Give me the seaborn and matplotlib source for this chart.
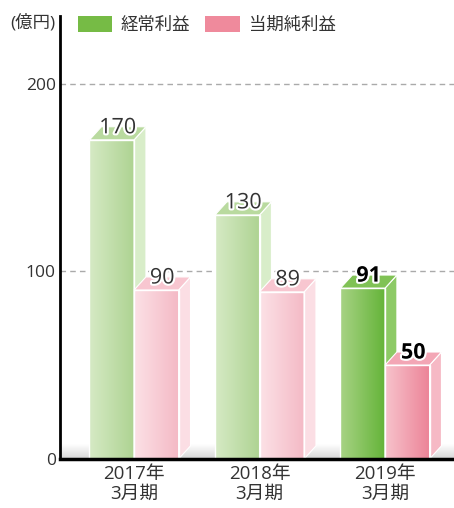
import numpy as np
import pandas as pd
import seaborn as sns
import matplotlib
matplotlib.use('Agg')
import matplotlib.pyplot as plt
from matplotlib.patches import Polygon, Patch
from matplotlib.colors import LinearSegmentedColormap
from matplotlib import patheffects

# data
periods = ['2017年\n3月期', '2018年\n3月期', '2019年\n3月期']
series = ['経常利益', '当期純利益']
keijo = [170, 130, 91]
junri = [90, 89, 50]
yticks = [0, 100, 200]

sns.set_theme(style='white')
plt.rcParams['font.family'] = ['Open Sans', 'Noto Sans CJK JP', 'DejaVu Sans']

df = pd.DataFrame({'period': periods * 2,
                   'series': [series[0]] * 3 + [series[1]] * 3,
                   'value': keijo + junri})

fig = plt.figure(figsize=(4.54, 5.08), dpi=100)
ax = fig.add_axes([60 / 454, 49 / 508, 394 / 454, 443 / 508])

sns.barplot(data=df, x='period', y='value', hue='series', hue_order=series,
            width=0.71, legend=False, ax=ax, saturation=1,
            palette=['#76bb45', '#ef8a9c'], edgecolor='white', linewidth=1)

ax.set_xlim(-0.59, 2.55)
ax.set_ylim(0, 236)

# styles: (front left, front right, side, top) per series, light for past, strong for latest
light = {0: ('#d6eac5', '#aed392', '#d8edc9', '#b9da9f'),
         1: ('#fce1e6', '#f4b9c5', '#fbdee4', '#f8c6d0')}
strong = {0: ('#a8d385', '#65b439', '#8dca66', '#80c255'),
          1: ('#f7c3cc', '#ec8397', '#f6b9c5', '#f3a6b5')}

dx, dy = 0.095, 7.0

# floor shading
floor = LinearSegmentedColormap.from_list('floor', ['#d6d6d6', '#ffffff'])
ax.imshow(np.linspace(0, 1, 64).reshape(-1, 1), cmap=floor, aspect='auto',
          extent=[-0.59, 2.55, 0, 7.5], origin='lower', zorder=0.6)

for si, cont in enumerate(ax.containers):
    for pi, bar in enumerate(cont):
        x0 = bar.get_x()
        w = bar.get_width()
        x1 = x0 + w
        h = bar.get_height()
        latest = pi == len(periods) - 1
        cols = strong[si] if latest else light[si]
        z = 2 + pi * 2 + si
        bar.set_zorder(z + 0.3)
        bar.set_facecolor('none')
        cmap = LinearSegmentedColormap.from_list('g', [cols[0], cols[1]])
        im = ax.imshow(np.linspace(0, 1, 128).reshape(1, -1), cmap=cmap, aspect='auto',
                       extent=[x0, x1, 0, h], zorder=z, interpolation='bilinear')
        im.set_clip_path(bar)
        side = Polygon([(x1, 0), (x1 + dx, dy), (x1 + dx, h + dy), (x1, h)], closed=True,
                       facecolor=cols[2], edgecolor='white', linewidth=0.8, zorder=z + 0.1)
        top = Polygon([(x0, h), (x0 + dx, h + dy), (x1 + dx, h + dy), (x1, h)], closed=True,
                      facecolor=cols[3], edgecolor='white', linewidth=0.8, zorder=z + 0.2)
        ax.add_patch(side)
        ax.add_patch(top)
        t = ax.text(x0 + w / 2 + dx / 2, h + 3.5, str(int(h)), ha='center', va='baseline',
                    fontsize=15.5, color='black' if latest else '#333333',
                    fontweight='bold' if latest else 'normal', zorder=20)
        t.set_path_effects([patheffects.withStroke(linewidth=3, foreground='white')])

ax.set_yticks(yticks)
ax.set_yticklabels([str(v) for v in yticks], fontsize=12.5, color='#333333')
ax.tick_params(axis='y', length=0, pad=3)
ax.tick_params(axis='x', length=0, pad=4, labelsize=13.5, labelcolor='#333333')
for lbl in ax.get_xticklabels():
    lbl.set_linespacing(1.15)
ax.set_xlabel('')
ax.set_ylabel('')

for y in [100, 200]:
    ax.axhline(y, color='#aaaaaa', linestyle=(0, (4, 3)), linewidth=1, zorder=0.5)

for s in ['top', 'right']:
    ax.spines[s].set_visible(False)
ax.spines['left'].set_color('black')
ax.spines['left'].set_linewidth(2)
ax.spines['bottom'].set_color('black')
ax.spines['bottom'].set_linewidth(2.5)
ax.spines['left'].set_zorder(30)
ax.spines['bottom'].set_zorder(30)

handles = [Patch(facecolor='#76bb45', edgecolor='none'),
           Patch(facecolor='#ef8a9c', edgecolor='none')]
ax.legend(handles, series, loc='upper left', bbox_to_anchor=(0.005, 1.035), ncol=2,
          frameon=False, fontsize=12.5, handlelength=2.0, handleheight=1.0,
          handletextpad=0.5, columnspacing=0.85, labelcolor='#333333')

fig.text(10 / 454, 1 - 23 / 508, '(億円)', fontsize=12.5, color='#333333', va='center')

fig.savefig('out.png', dpi=100)
